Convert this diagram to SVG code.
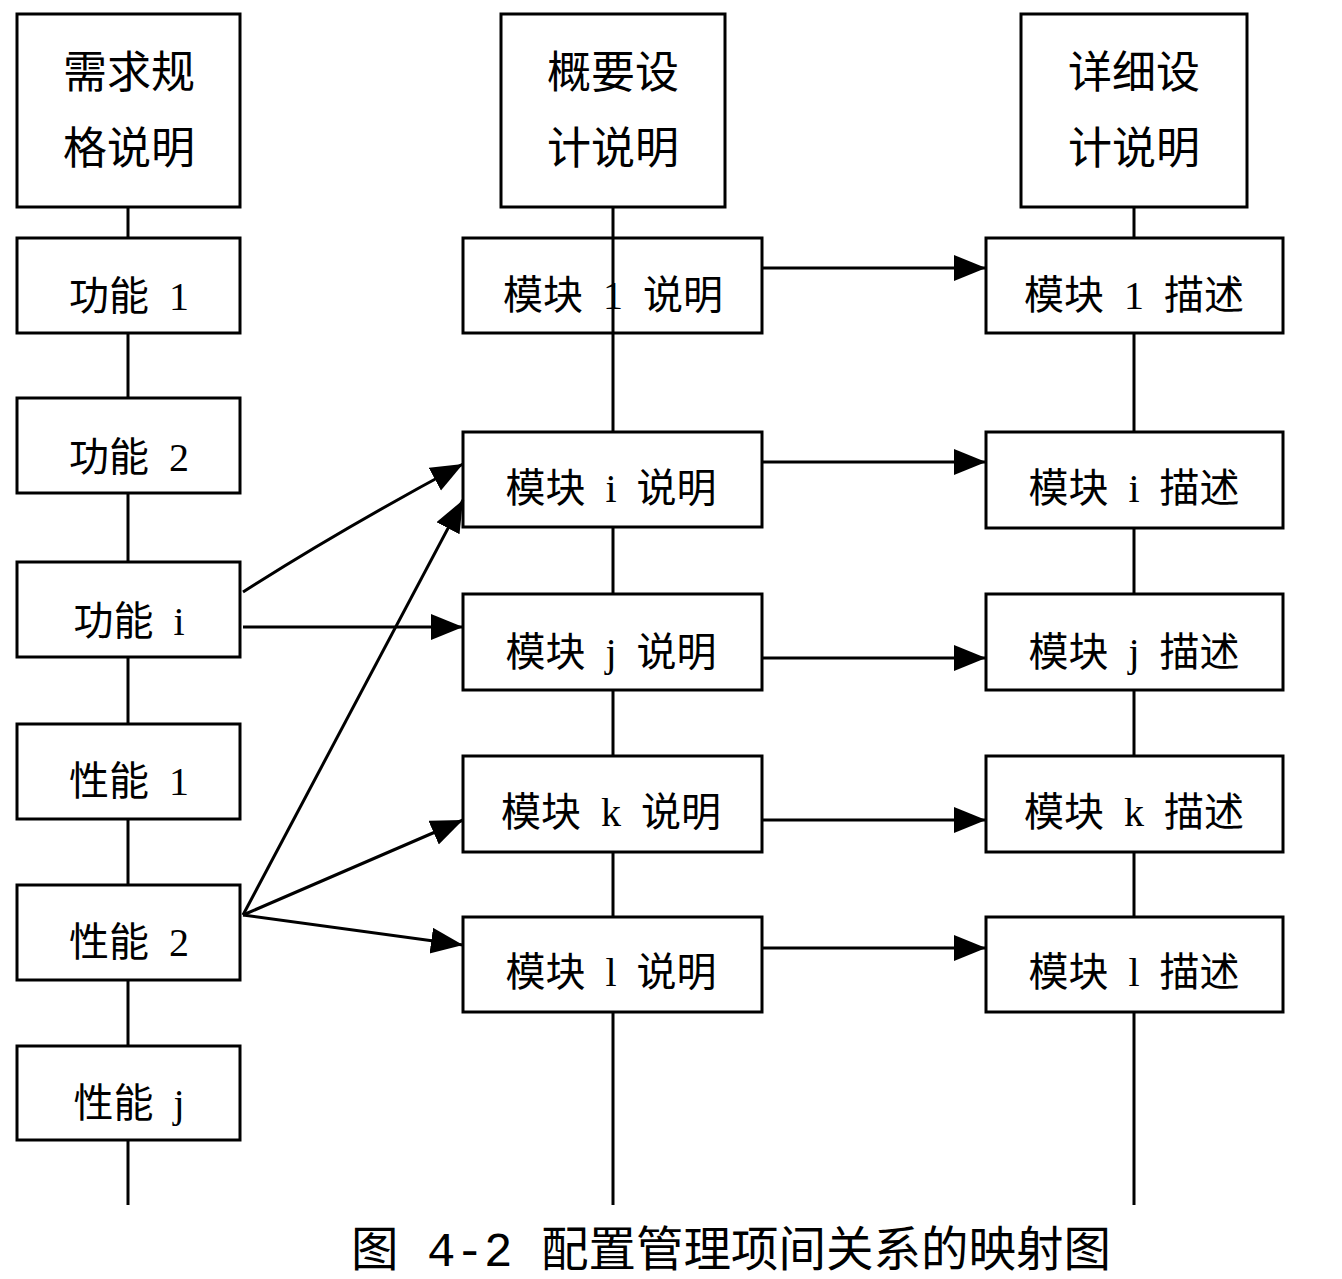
<svg xmlns="http://www.w3.org/2000/svg" width="1342" height="1279" viewBox="0 0 1342 1279">
<style>
.bx{fill:#fff;stroke:#000;stroke-width:3}
.bxo{fill:none;stroke:#000;stroke-width:3}
.ln{stroke:#000;stroke-width:3;fill:none}
.ar{stroke:#000;stroke-width:3;fill:none;marker-end:url(#ah)}
.t{font-family:"Liberation Serif","Noto Sans CJK SC",serif;font-size:40px;text-anchor:middle;fill:#000;white-space:pre}
.th{font-family:"Liberation Serif","Noto Sans CJK SC",serif;font-size:44px;text-anchor:middle;fill:#000}
.cap{font-family:"Liberation Mono","Noto Sans CJK SC",monospace;font-size:47.5px;text-anchor:middle;fill:#000;white-space:pre}
</style>
<defs>
<marker id="ah" markerUnits="userSpaceOnUse" markerWidth="34" markerHeight="28" refX="32" refY="13" orient="auto">
<path d="M0,0 L32,13 L0,26 z" fill="#000"/>
</marker>
</defs>
<rect width="1342" height="1279" fill="#fff"/>
<g id="connectors">
<line class="ln" x1="128" y1="207" x2="128" y2="1205"/>
<line class="ln" x1="613" y1="207" x2="613" y2="1205"/>
<line class="ln" x1="1134" y1="207" x2="1134" y2="1205"/>
</g>
<g id="n-req"><rect class="bx" x="17" y="14" width="223" height="193"/><text class="th" x="129" y="88">需求规</text><text class="th" x="129" y="164">格说明</text></g>
<g id="n-f1"><rect class="bx" x="17" y="238" width="223" height="95"/><text class="t" x="129" y="310" xml:space="preserve">功能  1</text></g>
<g id="n-f2"><rect class="bx" x="17" y="398" width="223" height="95"/><text class="t" x="129" y="471" xml:space="preserve">功能  2</text></g>
<g id="n-fi"><rect class="bx" x="17" y="562" width="223" height="95"/><text class="t" x="129" y="635" xml:space="preserve">功能  i</text></g>
<g id="n-p1"><rect class="bx" x="17" y="724" width="223" height="95"/><text class="t" x="129" y="795" xml:space="preserve">性能  1</text></g>
<g id="n-p2"><rect class="bx" x="17" y="885" width="223" height="95"/><text class="t" x="129" y="956" xml:space="preserve">性能  2</text></g>
<g id="n-pj"><rect class="bx" x="17" y="1046" width="223" height="94"/><text class="t" x="129" y="1117" xml:space="preserve">性能  j</text></g>
<g id="n-hl"><rect class="bx" x="501" y="14" width="224" height="193"/><text class="th" x="613" y="88">概要设</text><text class="th" x="613" y="164">计说明</text></g>
<g id="n-m1"><rect class="bxo" x="463" y="238" width="299" height="95"/><text class="t" x="613" y="309" xml:space="preserve">模块  1  说明</text></g>
<g id="n-mi"><rect class="bx" x="463" y="432" width="299" height="95"/><text class="t" x="611" y="502" xml:space="preserve">模块  i  说明</text></g>
<g id="n-mj"><rect class="bx" x="463" y="594" width="299" height="96"/><text class="t" x="611" y="666" xml:space="preserve">模块  j  说明</text></g>
<g id="n-mk"><rect class="bx" x="463" y="756" width="299" height="96"/><text class="t" x="611" y="826" xml:space="preserve">模块  k  说明</text></g>
<g id="n-ml"><rect class="bx" x="463" y="917" width="299" height="95"/><text class="t" x="611" y="986" xml:space="preserve">模块  l  说明</text></g>
<g id="n-dd"><rect class="bx" x="1021" y="14" width="226" height="193"/><text class="th" x="1134" y="88">详细设</text><text class="th" x="1134" y="164">计说明</text></g>
<g id="n-d1"><rect class="bx" x="986" y="238" width="297" height="95"/><text class="t" x="1134" y="309" xml:space="preserve">模块  1  描述</text></g>
<g id="n-di"><rect class="bx" x="986" y="432" width="297" height="96"/><text class="t" x="1134" y="502" xml:space="preserve">模块  i  描述</text></g>
<g id="n-dj"><rect class="bx" x="986" y="594" width="297" height="96"/><text class="t" x="1134" y="666" xml:space="preserve">模块  j  描述</text></g>
<g id="n-dk"><rect class="bx" x="986" y="756" width="297" height="96"/><text class="t" x="1134" y="826" xml:space="preserve">模块  k  描述</text></g>
<g id="n-dl"><rect class="bx" x="986" y="917" width="297" height="95"/><text class="t" x="1134" y="986" xml:space="preserve">模块  l  描述</text></g>
<g id="arrows">
<line class="ar" x1="762" y1="268" x2="986" y2="268"/>
<line class="ar" x1="762" y1="462" x2="986" y2="462"/>
<line class="ar" x1="762" y1="658" x2="986" y2="658"/>
<line class="ar" x1="762" y1="820" x2="986" y2="820"/>
<line class="ar" x1="762" y1="948" x2="986" y2="948"/>
<path class="ar" d="M243,592 Q340,530 463,464"/>
<line class="ar" x1="243" y1="627" x2="463" y2="627"/>
<line class="ar" x1="243" y1="915" x2="463" y2="500"/>
<line class="ar" x1="243" y1="915" x2="463" y2="820"/>
<line class="ar" x1="243" y1="915" x2="463" y2="945"/>
</g>
<text class="cap" x="731" y="1266" xml:space="preserve">图 4-2 配置管理项间关系的映射图</text>
</svg>
